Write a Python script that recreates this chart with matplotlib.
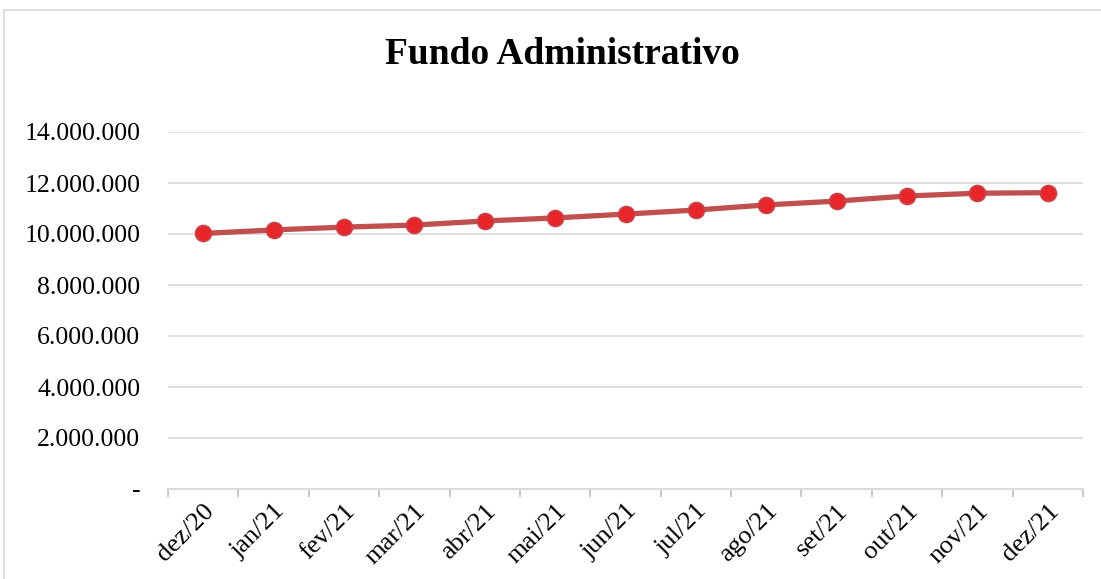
import matplotlib
matplotlib.use("Agg")
import matplotlib.pyplot as plt
from matplotlib.patches import Rectangle
from matplotlib.ticker import FuncFormatter

months = ["dez/20", "jan/21", "fev/21", "mar/21", "abr/21", "mai/21", "jun/21",
          "jul/21", "ago/21", "set/21", "out/21", "nov/21", "dez/21"]
values = [10020000, 10160000, 10270000, 10350000, 10510000, 10630000, 10780000,
          10940000, 11140000, 11290000, 11490000, 11600000, 11620000]
yticks = [0, 2000000, 4000000, 6000000, 8000000, 10000000, 12000000, 14000000]

plt.rcParams['font.family'] = ['Liberation Serif', 'DejaVu Serif']

fig = plt.figure(figsize=(11.01, 5.79), dpi=100)
fig.patches.append(Rectangle((4 / 1101, -0.01), 1.02, 1 - 10 / 579 + 0.01,
                             transform=fig.transFigure, fill=False,
                             edgecolor="#D9D9D9", linewidth=1.2))

ax = fig.add_axes([168 / 1101, 1 - 489 / 579, (1083 - 168) / 1101, (489 - 132) / 579])

x = list(range(len(months)))
ax.plot(x, values, color="#C0504D", linewidth=3.8, marker="o", markersize=11.5,
        markerfacecolor="#E8262A", markeredgecolor="#C8434A", markeredgewidth=1.2,
        solid_capstyle="round", zorder=3)

ax.set_xlim(-0.5, len(months) - 0.5)
ax.set_ylim(0, 14000000)
ax.set_yticks(yticks)

def fmt(v, pos):
    if v == 0:
        return "-"
    return f"{int(v):,}".replace(",", ".")

ax.yaxis.set_major_formatter(FuncFormatter(fmt))
ax.grid(axis="y", color="#D9D9D9", linewidth=1.2)
ax.set_axisbelow(True)

ax.set_xticks(x)
ax.set_xticklabels(months, rotation=45, ha="right", rotation_mode="anchor", fontsize=19)
ax.set_xticks([i - 0.5 for i in range(len(months) + 1)], minor=True)
ax.tick_params(axis="x", which="major", length=0, pad=8)
ax.tick_params(axis="x", which="minor", length=6, color="#BFBFBF", width=1.2)
ax.tick_params(axis="y", length=0, labelsize=18.5, pad=20)

for s in ["top", "right", "left"]:
    ax.spines[s].set_visible(False)
ax.spines["bottom"].set_color("#D9D9D9")
ax.spines["bottom"].set_linewidth(1.2)

fig.text(562 / 1101, 1 - 55 / 579, "Fundo Administrativo", ha="center", va="center",
         fontsize=27, fontweight="bold")

fig.savefig("out.png", dpi=100)
